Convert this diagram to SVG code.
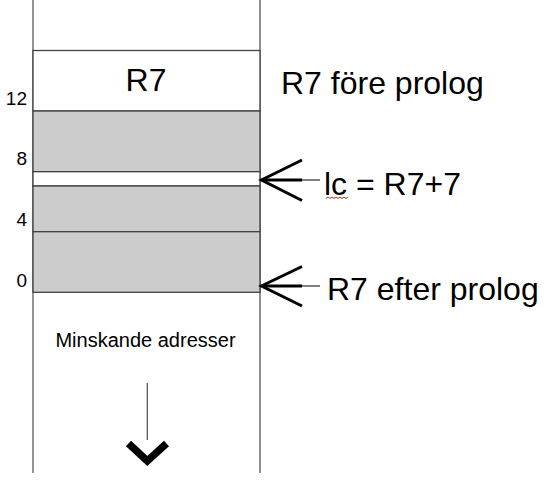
<svg xmlns="http://www.w3.org/2000/svg" width="548" height="480" viewBox="0 0 548 480">
<style>
.cell{stroke:#404040;stroke-width:1.3}
.white{fill:#ffffff}
.gray{fill:#cccccc}
.rail{stroke:#595959;stroke-width:1.3}
.t{font-family:"Liberation Sans",Arial,sans-serif;fill:#000}
.big{font-size:32px}
.num{font-size:19px;text-anchor:end}
.arm{fill:none;stroke:#000;stroke-width:3;stroke-linejoin:miter}
.tail{stroke:#000;stroke-width:1}
</style>
<rect width="548" height="480" fill="#fff"/>
<g id="stack-rails">
<line class="rail" x1="33" y1="0" x2="33" y2="473"/>
<line class="rail" x1="260" y1="0" x2="260" y2="473"/>
</g>
<g id="cell-r7">
<rect class="cell white" x="33" y="50.5" width="227" height="60.5"/>
<text class="t big" x="146" y="91" text-anchor="middle">R7</text>
</g>
<g id="cell-8">
<rect class="cell gray" x="33" y="111" width="227" height="60.7"/>
</g>
<g id="cell-lc">
<rect class="cell white" x="33" y="171.7" width="227" height="14.3"/>
</g>
<g id="cell-4">
<rect class="cell gray" x="33" y="186" width="227" height="45.7"/>
</g>
<g id="cell-0">
<rect class="cell gray" x="33" y="231.7" width="227" height="60.6"/>
</g>
<g id="offsets">
<text class="t num" x="27" y="104.5">12</text>
<text class="t num" x="27" y="165">8</text>
<text class="t num" x="27" y="225.5">4</text>
<text class="t num" x="27" y="286.5">0</text>
</g>
<g id="label-fore">
<text class="t big" x="281" y="94">R7 före prolog</text>
</g>
<g id="label-lc">
<text class="t big" x="324" y="195">lc = R7+7</text>
<path d="M326,198.5 l2,-1.5 l2,1.5 l2,-1.5 l2,1.5 l2,-1.5 l2,1.5 l2,-1.5 l2,1.5 l2,-1.5 l2,1.5 l2,-1.5" fill="none" stroke="#e00000" stroke-width="0.9"/>
</g>
<g id="label-efter">
<text class="t big" x="327" y="300" font-size="32.5">R7 efter prolog</text>
</g>
<g id="label-dir">
<text class="t" x="145.5" y="346.5" font-size="20" text-anchor="middle">Minskande adresser</text>
</g>
<g id="connectors">
<g id="arrow-lc">
<path class="arm" d="M302,160 L261.5,180 L302,200.5"/>
<line x1="261.5" y1="180" x2="302" y2="180" stroke="#000" stroke-width="3"/>
<line class="tail" x1="302" y1="180" x2="320" y2="180"/>
</g>
<g id="arrow-efter">
<path class="arm" d="M302,266.5 L261.5,286 L302,306"/>
<line x1="261.5" y1="286" x2="302" y2="286" stroke="#000" stroke-width="3"/>
<line class="tail" x1="302" y1="286" x2="320" y2="286"/>
</g>
<g id="arrow-down">
<line x1="147.3" y1="383" x2="147.3" y2="440" stroke="#595959" stroke-width="1.3"/>
<polyline points="128.5,443.5 147.3,461 166.5,443.5" fill="none" stroke="#000" stroke-width="7.5" stroke-linejoin="miter"/>
</g>
</g>
</svg>
